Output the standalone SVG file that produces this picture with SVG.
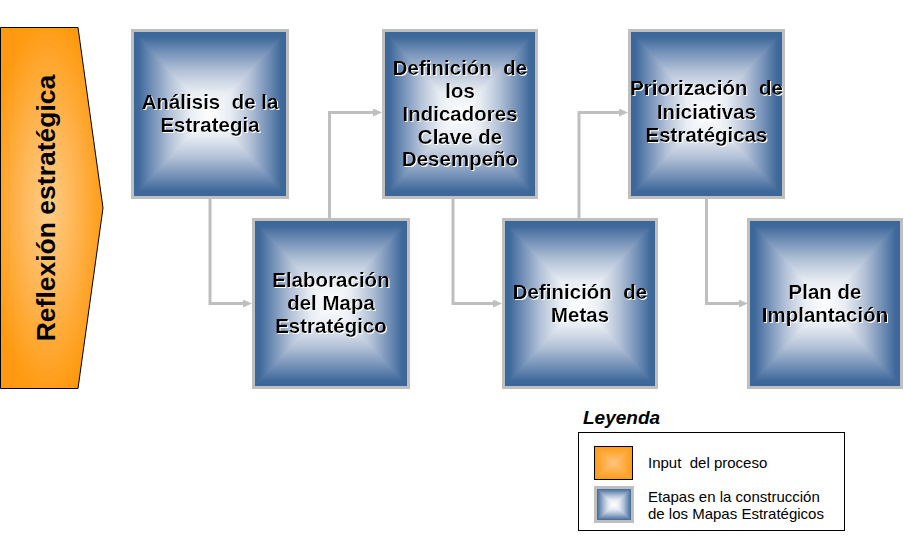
<svg xmlns="http://www.w3.org/2000/svg" xmlns:xlink="http://www.w3.org/1999/xlink" width="904" height="558" viewBox="0 0 904 558">
  <defs>
    <style>
      .bd { fill: none; stroke: #BFBFBF; stroke-width: 3; }
      .t { font-family: "Liberation Sans", Arial, sans-serif; font-weight: bold; font-size: 20.5px; fill: #000; text-anchor: middle; filter: url(#glow); }
      .lg { font-family: "Liberation Sans", Arial, sans-serif; font-size: 15px; fill: #000; }
      .con { fill: none; stroke: #BFBFBF; stroke-width: 3; marker-end: url(#ah); }
    </style>
    <filter id="glow" x="-10%" y="-20%" width="120%" height="140%">
      <feDropShadow dx="1" dy="1" stdDeviation="0.35" flood-color="#FFFFFF" flood-opacity="1"/>
    </filter>
    <marker id="ah" viewBox="0 0 9 8" refX="0" refY="4" markerWidth="9" markerHeight="8" markerUnits="userSpaceOnUse" orient="auto">
      <path d="M0,0 L9,4 L0,8 Z" fill="#BFBFBF"/>
    </marker>
    <linearGradient id="bH" x1="0" y1="0" x2="1" y2="0">
      <stop offset="0" stop-color="#3A6598"/>
      <stop offset="0.04" stop-color="#3F699B"/>
      <stop offset="0.12" stop-color="#6F8DB5"/>
      <stop offset="0.245" stop-color="#B5C3D8"/>
      <stop offset="0.37" stop-color="#E8EDF3"/>
      <stop offset="0.5" stop-color="#FFFFFF"/>
      <stop offset="0.63" stop-color="#E8EDF3"/>
      <stop offset="0.755" stop-color="#B5C3D8"/>
      <stop offset="0.88" stop-color="#6F8DB5"/>
      <stop offset="0.96" stop-color="#3F699B"/>
      <stop offset="1" stop-color="#3A6598"/>
    </linearGradient>
    <linearGradient id="bT" x1="0" y1="0" x2="0" y2="1">
      <stop offset="0" stop-color="#3A6598"/>
      <stop offset="0.08" stop-color="#3F699B"/>
      <stop offset="0.24" stop-color="#6F8DB5"/>
      <stop offset="0.49" stop-color="#B5C3D8"/>
      <stop offset="0.74" stop-color="#E8EDF3"/>
      <stop offset="1" stop-color="#FFFFFF"/>
    </linearGradient>
    <linearGradient id="bB" x1="0" y1="1" x2="0" y2="0">
      <stop offset="0" stop-color="#3A6598"/>
      <stop offset="0.08" stop-color="#3F699B"/>
      <stop offset="0.24" stop-color="#6F8DB5"/>
      <stop offset="0.49" stop-color="#B5C3D8"/>
      <stop offset="0.74" stop-color="#E8EDF3"/>
      <stop offset="1" stop-color="#FFFFFF"/>
    </linearGradient>
    <linearGradient id="oH" x1="0" y1="0" x2="1" y2="0">
      <stop offset="0" stop-color="#FF9A12"/>
      <stop offset="0.5" stop-color="#FFC47E"/>
      <stop offset="1" stop-color="#FF9A12"/>
    </linearGradient>
    <linearGradient id="oT" x1="0" y1="0" x2="0" y2="1">
      <stop offset="0" stop-color="#FF9A12"/>
      <stop offset="1" stop-color="#FFC47E"/>
    </linearGradient>
    <linearGradient id="oB" x1="0" y1="1" x2="0" y2="0">
      <stop offset="0" stop-color="#FF9A12"/>
      <stop offset="1" stop-color="#FFC47E"/>
    </linearGradient>
    <radialGradient id="oR" cx="48" cy="208" r="58" gradientUnits="userSpaceOnUse" gradientTransform="translate(48 208) scale(1 3.3) translate(-48 -208)">
      <stop offset="0" stop-color="#FFCD88"/>
      <stop offset="0.5" stop-color="#FFB450"/>
      <stop offset="1" stop-color="#FF9A10"/>
    </radialGradient>
    <symbol id="bf" viewBox="0 0 100 100" preserveAspectRatio="none">
      <rect x="0" y="0" width="100" height="100" fill="url(#bH)"/>
      <polygon points="0,0 100,0 50,50" fill="url(#bT)"/>
      <polygon points="0,100 100,100 50,50" fill="url(#bB)"/>
    </symbol>
    <symbol id="of" viewBox="0 0 100 100" preserveAspectRatio="none">
      <rect x="0" y="0" width="100" height="100" fill="url(#oH)"/>
      <polygon points="0,0 100,0 50,50" fill="url(#oT)"/>
      <polygon points="0,100 100,100 50,50" fill="url(#oB)"/>
    </symbol>
  </defs>

  <rect x="0" y="0" width="904" height="558" fill="#FFFFFF"/>

  <g id="reflexion">
    <polygon points="0.5,27.5 78,27.5 103,208 78,388.5 0.5,388.5" fill="url(#oR)" stroke="#000" stroke-width="1"/>
    <text transform="translate(55 208) rotate(-90)" x="0" y="0" text-anchor="middle" font-family="'Liberation Sans', Arial, sans-serif" font-weight="bold" font-size="26.5" fill="#000">Reflexión estratégica</text>
  </g>

  <g id="connectors">
    <path class="con" d="M210,199 V303.5 H243"/>
    <path class="con" d="M329.5,218 V112.5 H373"/>
    <path class="con" d="M453,198 V303.5 H493"/>
    <path class="con" d="M579,218 V112.5 H619"/>
    <path class="con" d="M706.5,198 V303.5 H739"/>
  </g>

  <g id="analisis">
    <use xlink:href="#bf" href="#bf" x="132.5" y="30.5" width="155" height="167"/>
    <rect class="bd" x="132.5" y="30.5" width="155" height="167"/>
    <text class="t" x="210" y="109" xml:space="preserve">Análisis  de la</text>
    <text class="t" x="210" y="132">Estrategia</text>
  </g>

  <g id="elaboracion">
    <use xlink:href="#bf" href="#bf" x="253.5" y="219.5" width="155" height="168"/>
    <rect class="bd" x="253.5" y="219.5" width="155" height="168"/>
    <text class="t" x="331" y="287">Elaboración</text>
    <text class="t" x="331" y="310">del Mapa</text>
    <text class="t" x="331" y="333">Estratégico</text>
  </g>

  <g id="indicadores">
    <use xlink:href="#bf" href="#bf" x="383.5" y="30.5" width="153" height="167"/>
    <rect class="bd" x="383.5" y="30.5" width="153" height="167"/>
    <text class="t" x="460" y="74.5" xml:space="preserve">Definición  de</text>
    <text class="t" x="460" y="97.5">los</text>
    <text class="t" x="460" y="120.5">Indicadores</text>
    <text class="t" x="460" y="143.5">Clave de</text>
    <text class="t" x="460" y="166">Desempeño</text>
  </g>

  <g id="priorizacion">
    <use xlink:href="#bf" href="#bf" x="629.5" y="30.5" width="154" height="167"/>
    <rect class="bd" x="629.5" y="30.5" width="154" height="167"/>
    <text class="t" x="706.5" y="95" xml:space="preserve">Priorización  de</text>
    <text class="t" x="706.5" y="118.5">Iniciativas</text>
    <text class="t" x="706.5" y="142">Estratégicas</text>
  </g>

  <g id="metas">
    <use xlink:href="#bf" href="#bf" x="503.5" y="219.5" width="153" height="168"/>
    <rect class="bd" x="503.5" y="219.5" width="153" height="168"/>
    <text class="t" x="580" y="299" xml:space="preserve">Definición  de</text>
    <text class="t" x="580" y="322">Metas</text>
  </g>

  <g id="plan">
    <use xlink:href="#bf" href="#bf" x="748.5" y="219.5" width="153" height="168"/>
    <rect class="bd" x="748.5" y="219.5" width="153" height="168"/>
    <text class="t" x="825" y="299">Plan de</text>
    <text class="t" x="825" y="322">Implantación</text>
  </g>

  <g id="legend">
    <text x="583" y="424" font-family="'Liberation Sans', Arial, sans-serif" font-weight="bold" font-style="italic" font-size="19" fill="#000">Leyenda</text>
    <rect x="578.5" y="432.5" width="266" height="98" fill="#FFFFFF" stroke="#000" stroke-width="1"/>
    <use xlink:href="#of" href="#of" x="594.5" y="446.5" width="38" height="33"/>
    <rect x="594.5" y="446.5" width="38" height="33" fill="none" stroke="#000" stroke-width="1"/>
    <text class="lg" x="648" y="468" xml:space="preserve">Input  del proceso</text>
    <use xlink:href="#bf" href="#bf" x="595.5" y="487.5" width="37" height="34"/>
    <rect class="bd" x="595.5" y="487.5" width="37" height="34"/>
    <text class="lg" x="648" y="502">Etapas en la construcción</text>
    <text class="lg" x="648" y="519">de los Mapas Estratégicos</text>
  </g>
</svg>
